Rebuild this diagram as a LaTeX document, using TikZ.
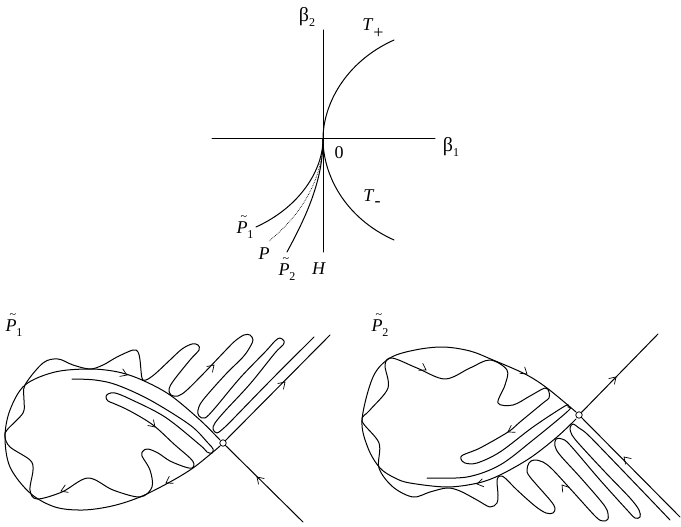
\documentclass[tikz,border=0pt]{standalone}
\usepackage{fontspec}
\setmainfont{Liberation Serif}
\usetikzlibrary{calc}
\newcommand{\sbx}[1]{\raisebox{-0.3em}{\fontsize{12}{12}\selectfont #1}}
\newcommand{\Ptl}[1]{\textit{P}\llap{\raisebox{0.72em}{\fontsize{12}{12}\selectfont\~{}\hspace{0.5pt}}}\sbx{#1}}
\newcommand{\barbh}[2]{\draw[barbline] ($(#2)!7.5pt!33:(#1)$) -- (#2) -- ($(#2)!7.5pt!-33:(#1)$);}
\tikzset{
  x=1pt,y=-1pt,
  curve/.style={line width=1pt,line join=round,line cap=round},
  smoothcurve/.style={curve,smooth,tension=0.55},
  barbline/.style={line width=0.7pt,line join=miter},
  saddle/.style={circle,draw,fill=white,line width=0.8pt,inner sep=0pt,minimum size=6.5pt},
  lbl/.style={inner sep=0pt,font=\fontsize{18}{20}\selectfont},
}
\begin{document}
\begin{tikzpicture}
\useasboundingbox (0,0) rectangle (681,527);
% top diagram
\coordinate (o) at (323,139);
\coordinate (vt) at (323,30);
\coordinate (vb) at (323,252);
\coordinate (hl) at (212,139);
\coordinate (hr) at (435,139);
\draw[curve] (vt) -- (vb);
\draw[curve] (hl) -- (hr);
\draw[curve] (o) .. controls (323,105) and (345,62) .. (394,40);
\draw[curve] (o) .. controls (323,175) and (345,218) .. (394,240);
\draw[curve] (o) .. controls (323,170) and (300,207) .. (256,227);
\draw[line width=0.7pt,densely dotted] (o) .. controls (323,175) and (305,212) .. (269,241);
\draw[curve] (o) .. controls (323,180) and (307,215) .. (287,252);
\node[lbl] (b2) at (307,17) {{\fontsize{20}{20}\selectfont β}\sbx{2}};
\node[lbl] (tp) at (373,29) {\textit{T}\raisebox{-0.45em}{+}};
\node[lbl] (b1) at (451,147) {{\fontsize{20}{20}\selectfont β}\sbx{1}};
\node[lbl] (zero) at (339,153) {0};
\node[lbl] (tm) at (372,198) {\textit{T}\raisebox{-0.3em}{-}};
\node[lbl] (p1) at (245,227) {\Ptl{1}};
\node[lbl] (pp) at (264,254) {\textit{P}};
\node[lbl] (p2) at (287,269) {\Ptl{2}};
\node[lbl] (hh) at (319,269) {\textit{H}};
\node[lbl] (q1) at (14,325) {\Ptl{1}};
\node[lbl] (q2) at (380,325) {\Ptl{2}};
% left phase portrait: homoclinic loop
\draw[smoothcurve] plot coordinates {(220,440) (200,420) (170,395) (142,380) (118,372) (90,369) (55,372) (25,385) (10,410) (5,437) (10,467) (30,493) (55,507) (83,510) (112,506) (140,497) (170,482) (193,468) (213,452) (220,446)};
% left phase portrait: wiggly manifold
\draw[smoothcurve] plot coordinates {(314,337) (270,381) (235,417) (225,427) (217,433) (213,429) (215,423) (225,411) (250,384) (275,353) (283,345) (284,341) (280,338) (275,341) (266,351) (240,378) (215,408) (205,418) (199,416) (198,410) (203,400) (225,375) (243,357) (250,347) (253,340) (250,335) (244,335) (235,341) (225,351) (205,372) (187,390) (178,396) (171,395) (169,389) (174,380) (190,360) (199,350) (198,345) (192,344) (182,349) (170,360) (155,374) (146,380) (142,378) (140,360) (138,352) (133,350) (117,357) (103,365) (90,369) (73,365) (58,359) (43,363) (25,385) (24,400) (23,413) (7,430) (5,437) (10,447) (30,460) (33,470) (30,490) (37,499) (62,492) (88,478) (113,490) (140,497) (152,487) (150,470) (142,456) (143,451) (148,449) (158,453) (170,461) (185,467) (192,468) (194,464) (190,458) (175,445) (153,425) (130,411) (115,404) (108,401) (106,397) (108,394) (115,393) (130,399) (165,417) (200,445) (207,452) (212,453) (213,449) (208,443) (190,425) (150,400) (117,385) (95,380) (72,379)};
% right phase portrait: homoclinic loop
\draw[smoothcurve] plot coordinates {(576,412) (547,388) (525,374) (493,360) (470,351) (443,347) (415,350) (390,358) (373,377) (362,420) (368,448) (380,468) (395,478) (410,483) (447,487) (478,483) (500,475) (530,458) (557,437) (576,419)};
% right phase portrait: wiggly manifold
\draw[smoothcurve] plot coordinates {(670,520) (650,499) (600,447) (586,433) (579,428) (573,424) (570,428) (572,435) (580,445) (605,472) (630,498) (639,510) (640,517) (635,518) (628,511) (600,480) (570,445) (562,439) (556,439) (555,446) (560,455) (580,477) (600,500) (607,510) (608,519) (603,521) (596,517) (575,494) (553,470) (543,462) (534,460) (529,463) (527,470) (530,477) (550,500) (555,508) (553,513) (546,513) (535,506) (517,490) (505,478) (500,476) (497,480) (498,495) (497,503) (490,507) (477,500) (460,491) (447,488) (430,492) (413,497) (393,487) (379,468) (379,443) (362,421) (370,410) (388,388) (385,365) (392,358) (417,368) (445,379) (470,368) (490,360) (507,370) (505,385) (498,403) (513,405) (530,396) (545,388) (549,392) (549,398) (543,403) (520,422) (508,432) (480,448) (463,455) (461,459) (465,463) (477,463) (500,452) (533,427) (565,406) (568,407) (568,411) (533,440) (500,465) (467,477) (427,478)};
% saddles and straight manifolds
\node[saddle] (s1) at (223,443) {};
\node[saddle] (s2) at (579,415) {};
\coordinate (s1a) at (303,522);
\coordinate (s1b) at (330,335);
\coordinate (s2a) at (680,517);
\coordinate (s2b) at (658,334);
\draw[curve] (s1) -- (s1a);
\draw[curve] (s1) -- (s1b);
\draw[curve] (s2) -- (s2a);
\draw[curve] (s2) -- (s2b);
% arrowheads, left
\barbh{122,373}{127,375}
\barbh{150,422}{155,427}
\barbh{66,489}{61,491}
\barbh{171,480}{166,483}
\barbh{210,369}{214,365}
\barbh{281,386}{285,382}
\barbh{261,481}{257,477}
% arrowheads, right
\barbh{421,367}{426,370}
\barbh{522,370}{527,374}
\barbh{513,429}{508,432}
\barbh{482,483}{477,484}
\barbh{566,490}{562,485}
\barbh{628,461}{624,457}
\barbh{612,381}{616,377}
\end{tikzpicture}
\end{document}
